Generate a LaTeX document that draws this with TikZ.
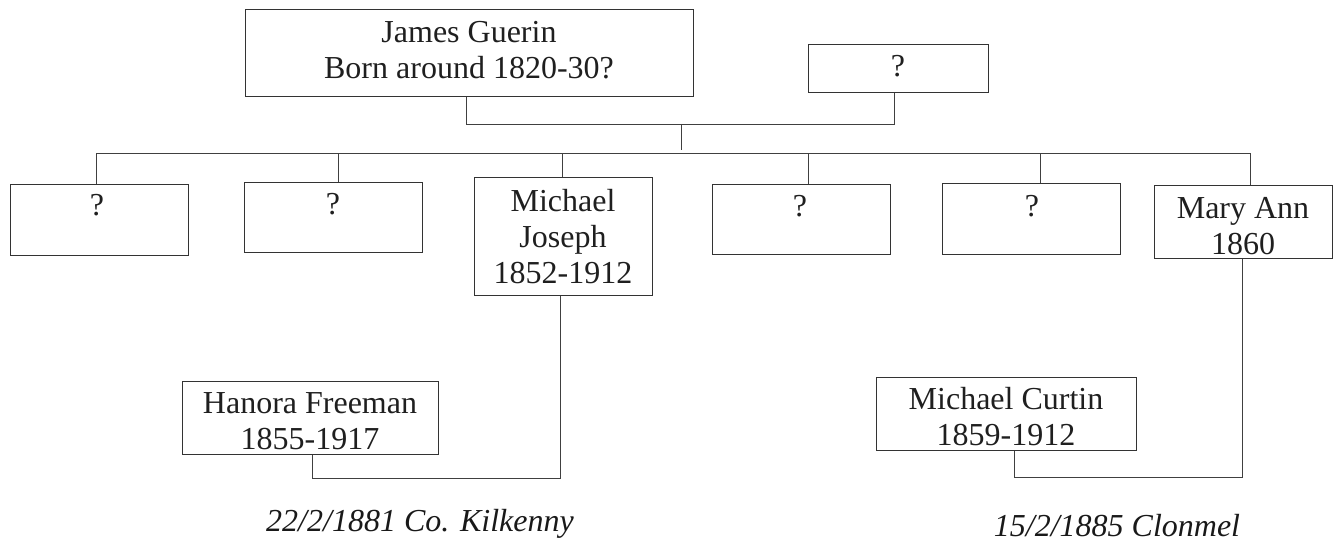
\documentclass[tikz,border=0pt]{standalone}
\usepackage{fontspec}
\setmainfont{Liberation Serif}
\usetikzlibrary{fit}
\begin{document}
\begin{tikzpicture}[x=0.75pt,y=-0.75pt,
  box/.style={draw=black!80, line width=0.75pt, inner sep=0pt, rectangle},
  txt/.style={align=center, inner sep=0pt, text=black!88, font=\fontsize{24}{27}\selectfont},
  note/.style={inner sep=0pt, text=black!90, font=\fontsize{24}{27}\selectfont\itshape},
  link/.style={draw=black!75, line width=0.75pt}]
\useasboundingbox (0,0) rectangle (1338,545);

% boxes
\node[box, fit={(245,10) (693,97)}] (james) {};
\node[box, fit={(808,45) (988,93)}] (spouse) {};
\node[box, fit={(10,185) (188,256)}] (c1) {};
\node[box, fit={(244,183) (422,253)}] (c2) {};
\node[box, fit={(474,178) (652,295)}] (mj) {};
\node[box, fit={(712,185) (890,255)}] (c4) {};
\node[box, fit={(942,184) (1120,255)}] (c5) {};
\node[box, fit={(1154,186) (1332,259)}] (mary) {};
\node[box, fit={(182,381) (438,454)}] (hanora) {};
\node[box, fit={(876,377) (1136,450)}] (curtin) {};

% texts
\node[txt] (jamesT) at (469,50) {James Guerin\\Born around 1820-30?};
\node[txt] (spouseT) at (898,66) {?};
\node[txt] (c1T) at (97,205) {?};
\node[txt] (c2T) at (333,204) {?};
\node[txt] (mjT) at (563,237) {Michael\\Joseph\\1852-1912};
\node[txt] (c4T) at (800,206) {?};
\node[txt] (c5T) at (1032,206) {?};
\node[txt] (maryT) at (1243,226) {Mary Ann\\1860};
\node[txt] (hanoraT) at (310,421) {Hanora Freeman\\1855-1917};
\node[txt] (curtinT) at (1006,417) {Michael Curtin\\1859-1912};
\node[note] (wed1) at (420,524) {22/2/1881 Co. Kilkenny};
\node[note] (wed2) at (1117,526) {15/2/1885 Clonmel};

% parents' connector
\coordinate (jx) at (466,0);
\coordinate (sx) at (894,0);
\draw[link] (james.south -| jx) -- ++(0,27) -| (spouse.south -| sx);
\coordinate (mtop) at (681,124);
\coordinate (mbot) at (681,150);
\draw[link] (mtop) -- (mbot);

% sibling bar
\coordinate (d1) at (96,154);
\coordinate (d2) at (338,154);
\coordinate (d3) at (562,154);
\coordinate (d4) at (808,154);
\coordinate (d5) at (1040,154);
\coordinate (d6) at (1250,154);
\draw[link] (d1 |- c1.north) -- (d1) -- (d6) -- (d6 |- mary.north);
\draw[link] (d2) -- (d2 |- c2.north);
\draw[link] (d3) -- (d3 |- mj.north);
\draw[link] (d4) -- (d4 |- c4.north);
\draw[link] (d5) -- (d5 |- c5.north);

% marriages
\coordinate (k1) at (560,478);
\coordinate (h1) at (312,0);
\draw[link] (mj.south -| k1) -- (k1) -| (hanora.south -| h1);
\coordinate (k2) at (1242,477);
\coordinate (h2) at (1014,0);
\draw[link] (mary.south -| k2) -- (k2) -| (curtin.south -| h2);
\end{tikzpicture}
\end{document}
